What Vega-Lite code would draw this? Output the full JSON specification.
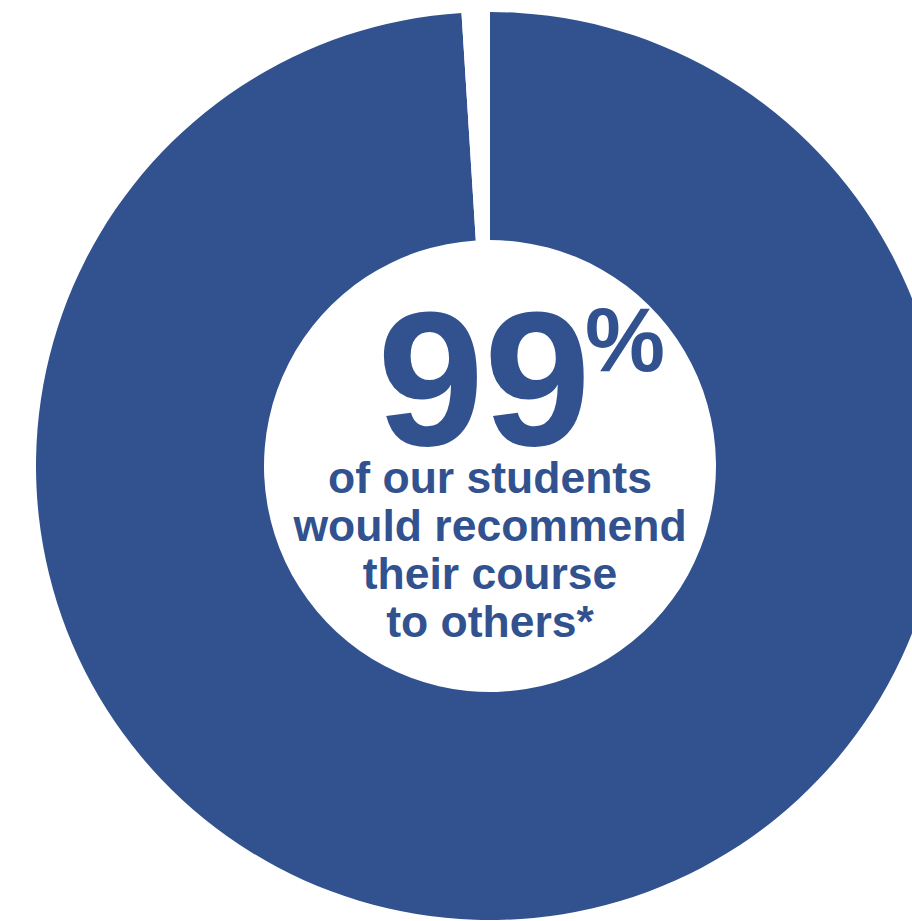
{
  "$schema": "https://vega.github.io/schema/vega-lite/v6.json",
  "width": 840,
  "height": 900,
  "autosize": "none",
  "padding": {"left": 70, "top": 16, "right": 2, "bottom": 5},
  "background": "#ffffff",
  "config": {"view": {"stroke": null}},
  "layer": [
    {
      "data": {"values": [
        {"category": "Would recommend", "value": 99},
        {"category": "Would not", "value": 1}
      ]},
      "mark": {"type": "arc", "radius": 454, "innerRadius": 226, "stroke": null},
      "encoding": {
        "theta": {"field": "value", "type": "quantitative", "stack": true},
        "order": {"field": "value", "sort": "descending"},
        "color": {
          "field": "category",
          "type": "nominal",
          "scale": {"domain": ["Would recommend", "Would not"], "range": ["#31528f", "#ffffff"]},
          "legend": null
        }
      }
    },
    {
      "data": {"values": [{"label": "99"}]},
      "mark": {"type": "text", "font": "Liberation Sans", "fontWeight": "bold", "fontSize": 192, "align": "center", "baseline": "alphabetic", "dx": -6, "dy": -21, "color": "#31528f"},
      "encoding": {"text": {"field": "label", "type": "nominal"}}
    },
    {
      "data": {"values": [{"label": "%"}]},
      "mark": {"type": "text", "font": "Liberation Sans", "fontWeight": "bold", "fontSize": 90, "align": "left", "baseline": "alphabetic", "dx": 95, "dy": -95, "color": "#31528f"},
      "encoding": {"text": {"field": "label", "type": "nominal"}}
    },
    {
      "data": {"values": [{"label": "of our students\nwould recommend\ntheir course\nto others*"}]},
      "mark": {"type": "text", "font": "Liberation Sans", "fontWeight": "bold", "fontSize": 44.5, "lineHeight": 48, "lineBreak": "\n", "align": "center", "baseline": "alphabetic", "dx": 0, "dy": 27, "color": "#31528f"},
      "encoding": {"text": {"field": "label", "type": "nominal"}}
    }
  ]
}
